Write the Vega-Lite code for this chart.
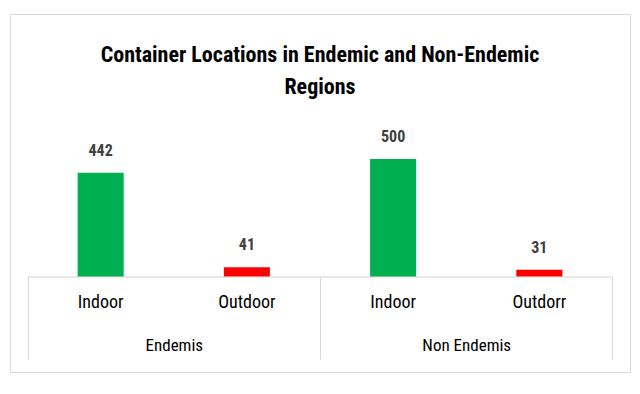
{
  "$schema": "https://vega.github.io/schema/vega-lite/v6.json",
  "width": 620,
  "height": 358,
  "autosize": {"type": "none"},
  "padding": {"left": 10, "top": 14, "right": 10, "bottom": 22},
  "background": "white",
  "config": {
    "view": {"stroke": "#d9d9d9", "strokeWidth": 1},
    "font": "Roboto Condensed, Liberation Sans Narrow, DejaVu Sans Condensed, sans-serif"
  },
  "title": {
    "text": ["Container Locations in Endemic and Non-Endemic", "Regions"],
    "font": "Roboto Condensed, Liberation Sans Narrow, DejaVu Sans Condensed, sans-serif",
    "fontSize": 22,
    "fontWeight": "bold",
    "color": "black",
    "anchor": "middle",
    "baseline": "top",
    "offset": -85,
    "lineHeight": 32
  },
  "data": {
    "values": [
      {"region": "Endemis", "location": "Indoor", "key": "Endemis|Indoor", "count": 442},
      {"region": "Endemis", "location": "Outdoor", "key": "Endemis|Outdoor", "count": 41},
      {"region": "Non Endemis", "location": "Indoor", "key": "Non Endemis|Indoor", "count": 500},
      {"region": "Non Endemis", "location": "Outdorr", "key": "Non Endemis|Outdorr", "count": 31}
    ]
  },
  "layer": [
    {
      "encoding": {
        "x": {
          "field": "key",
          "type": "nominal",
          "sort": null,
          "scale": {"paddingInner": 0, "paddingOuter": 0.12},
          "axis": {
            "orient": "bottom",
            "offset": -95,
            "domain": false,
            "ticks": false,
            "tickSize": 0,
            "grid": false,
            "labelPadding": 25,
            "labelBaseline": "middle",
            "labelFontSize": 18,
            "labelColor": "black",
            "labelAngle": 0,
            "labelExpr": "split(datum.label, '|')[1]",
            "title": null
          }
        },
        "y": {
          "field": "count",
          "type": "quantitative",
          "scale": {"domain": [-402.5, 1114.4], "nice": false, "zero": false},
          "axis": null
        }
      },
      "layer": [
        {
          "mark": {"type": "bar", "width": {"band": 0.315}},
          "encoding": {
            "y2": {"datum": 0},
            "color": {
              "field": "location",
              "type": "nominal",
              "scale": {"domain": ["Indoor", "Outdoor", "Outdorr"], "range": ["#00b050", "#ff0000", "#ff0000"]},
              "legend": null
            }
          }
        },
        {
          "mark": {"type": "text", "baseline": "bottom", "dy": -14, "fontSize": 16, "fontWeight": "bold", "color": "#404040"},
          "encoding": {
            "text": {"field": "count", "type": "quantitative"}
          }
        }
      ]
    },
    {
      "mark": {"type": "tick", "orient": "horizontal", "size": 292.5, "thickness": 1, "color": "#d9d9d9"},
      "encoding": {
        "x": {
          "field": "region",
          "type": "nominal",
          "sort": null,
          "scale": {"paddingInner": 0, "paddingOuter": 0.06},
          "axis": {
            "orient": "bottom",
            "offset": -95,
            "domain": false,
            "grid": false,
            "tickBand": "extent",
            "tickSize": 82,
            "tickColor": "#d9d9d9",
            "tickWidth": 1,
            "labelPadding": -14,
            "labelBaseline": "middle",
            "labelFontSize": 17,
            "labelColor": "black",
            "labelAngle": 0,
            "title": null
          }
        },
        "y": {"datum": 0, "type": "quantitative"}
      }
    }
  ],
  "resolve": {"scale": {"x": "independent"}, "axis": {"x": "independent"}}
}
